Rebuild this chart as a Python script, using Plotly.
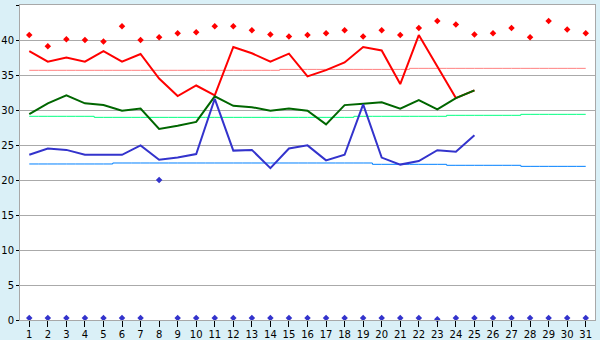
import plotly.graph_objects as go

days = list(range(1, 32))
days25 = list(range(1, 26))

max_abs = [40.7, 39.1, 40.1, 40.0, 39.8, 41.95, 40.0, 40.4, 40.95, 41.1,
           41.95, 41.95, 41.4, 40.8, 40.5, 40.7, 40.95, 41.4, 40.5, 41.4,
           40.7, 41.7, 42.7, 42.2, 40.8, 40.95, 41.7, 40.4, 42.7, 41.5, 40.95]
min_abs = [0.3, 0.3, 0.3, 0.3, 0.3, 0.3, 0.3, 20.0, 0.3, 0.3,
           0.3, 0.3, 0.3, 0.3, 0.3, 0.3, 0.3, 0.3, 0.3, 0.3,
           0.3, 0.3, 0.1, 0.3, 0.3, 0.3, 0.3, 0.3, 0.3, 0.3, 0.3]

t_max = [38.4, 36.9, 37.5, 36.9, 38.4, 36.9, 38.0, 34.5, 32.0, 33.5,
         32.1, 39.0, 38.1, 36.9, 38.05, 34.8, 35.7, 36.8, 39.0, 38.5,
         33.7, 40.7, 36.2, 31.7, 32.8]
t_mean = [29.4, 30.95, 32.1, 30.95, 30.7, 29.9, 30.2, 27.3, 27.75, 28.3,
          31.95, 30.6, 30.4, 29.9, 30.2, 29.9, 27.95, 30.7, 30.9, 31.1,
          30.2, 31.4, 30.1, 31.7, 32.8]
t_min = [23.6, 24.5, 24.3, 23.6, 23.6, 23.6, 24.95, 22.9, 23.2, 23.7,
         31.6, 24.2, 24.3, 21.7, 24.5, 24.95, 22.8, 23.6, 30.8, 23.2,
         22.2, 22.7, 24.25, 24.05, 26.4]

norm_max = [35.67]*14 + [35.8]*7 + [35.95]*10
norm_mean = [29.1]*4 + [28.95]*14 + [29.1]*5 + [29.24]*4 + [29.38]*4
norm_min = [22.29]*5 + [22.43]*14 + [22.24]*4 + [22.1]*4 + [21.95]*4

y_ticks = list(range(0, 50, 5))

fig = go.Figure()
fig.add_trace(go.Scatter(x=days, y=norm_max, mode="lines", line=dict(color="#ff8080", width=1, shape="hvh")))
fig.add_trace(go.Scatter(x=days, y=norm_mean, mode="lines", line=dict(color="#00ff80", width=1, shape="hvh")))
fig.add_trace(go.Scatter(x=days, y=norm_min, mode="lines", line=dict(color="#0080ff", width=1, shape="hvh")))
fig.add_trace(go.Scatter(x=days25, y=t_max, mode="lines", line=dict(color="#ff0000", width=2)))
fig.add_trace(go.Scatter(x=days25, y=t_mean, mode="lines", line=dict(color="#006600", width=2)))
fig.add_trace(go.Scatter(x=days25, y=t_min, mode="lines", line=dict(color="#3333cc", width=2)))
fig.add_trace(go.Scatter(x=days, y=max_abs, mode="markers",
                         marker=dict(symbol="diamond", size=5, color="#ff0000"), cliponaxis=False))
fig.add_trace(go.Scatter(x=days, y=min_abs, mode="markers",
                         marker=dict(symbol="diamond", size=5, color="#3333cc"), cliponaxis=False))

fig.update_layout(
    width=600, height=340,
    margin=dict(l=20, r=5, t=5, b=20),
    paper_bgcolor="#daf0f7", plot_bgcolor="#ffffff",
    showlegend=False,
    font=dict(family="DejaVu Sans", size=10, color="#000000"),
)
fig.update_xaxes(range=[0.5, 31.5], tickmode="array", tickvals=days, ticktext=[str(d) for d in days],
                 showgrid=False, zeroline=False, showline=True, linecolor="#a8a8a8", linewidth=1,
                 mirror=True, ticks="outside", ticklen=6, tickcolor="#000000", tickwidth=1,
                 ticklabelstandoff=-1, automargin=False)
fig.update_yaxes(range=[0, 45], tickmode="array", tickvals=y_ticks, ticktext=[str(v) for v in y_ticks],
                 showgrid=True, gridcolor="#aaaaaa", gridwidth=1, zeroline=False,
                 showline=True, linecolor="#a8a8a8", linewidth=1, mirror=True,
                 ticks="outside", ticklen=3, tickcolor="#000000", tickwidth=1,
                 automargin=False)

fig.write_html("out.html")
